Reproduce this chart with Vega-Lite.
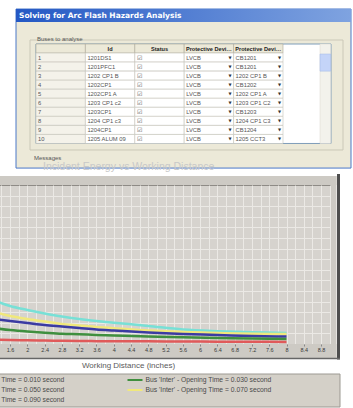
{
  "$schema": "https://vega.github.io/schema/vega-lite/v6.json",
  "padding": {"left": -78, "top": 8, "right": 0, "bottom": 0},
  "background": "white",
  "bounds": "flush",
  "spacing": 17,
  "config": {
    "view": {"stroke": null},
    "font": "Liberation Sans"
  },
  "datasets": {
    "columns": [
      {"col": "No", "label": ""},
      {"col": "Id", "label": "Id"},
      {"col": "Status", "label": "Status"},
      {"col": "Protective Device Type", "label": "Protective Device Type"},
      {"col": "Protective Device Id", "label": "Protective Device Id"}
    ],
    "buses": [
      {"No": "1", "Id": "1201DS1", "Status": "☑", "Protective Device Type": "LVCB", "Protective Device Id": "CB1201"},
      {"No": "2", "Id": "1201PFC1", "Status": "☑", "Protective Device Type": "LVCB", "Protective Device Id": "CB1201"},
      {"No": "3", "Id": "1202 CP1 B", "Status": "☑", "Protective Device Type": "LVCB", "Protective Device Id": "1202 CP1 B"},
      {"No": "4", "Id": "1202CP1", "Status": "☑", "Protective Device Type": "LVCB", "Protective Device Id": "CB1202"},
      {"No": "5", "Id": "1202CP1 A", "Status": "☑", "Protective Device Type": "LVCB", "Protective Device Id": "1202 CP1 A"},
      {"No": "6", "Id": "1203 CP1 c2", "Status": "☑", "Protective Device Type": "LVCB", "Protective Device Id": "1203 CP1 C2"},
      {"No": "7", "Id": "1203CP1", "Status": "☑", "Protective Device Type": "LVCB", "Protective Device Id": "CB1203"},
      {"No": "8", "Id": "1204 CP1 c3", "Status": "☑", "Protective Device Type": "LVCB", "Protective Device Id": "1204 CP1 C3"},
      {"No": "9", "Id": "1204CP1", "Status": "☑", "Protective Device Type": "LVCB", "Protective Device Id": "CB1204"},
      {"No": "10", "Id": "1205 ALUM 09", "Status": "☑", "Protective Device Type": "LVCB", "Protective Device Id": "1205 CCT3"}
    ],
    "curves": [
      {"series": "Bus 'Inter' - Opening Time = 0.090 second", "distance": 1.2, "energy": 4.15},
      {"series": "Bus 'Inter' - Opening Time = 0.090 second", "distance": 1.6, "energy": 3.58},
      {"series": "Bus 'Inter' - Opening Time = 0.090 second", "distance": 2.0, "energy": 3.21},
      {"series": "Bus 'Inter' - Opening Time = 0.090 second", "distance": 2.4, "energy": 2.88},
      {"series": "Bus 'Inter' - Opening Time = 0.090 second", "distance": 2.8, "energy": 2.59},
      {"series": "Bus 'Inter' - Opening Time = 0.090 second", "distance": 3.2, "energy": 2.36},
      {"series": "Bus 'Inter' - Opening Time = 0.090 second", "distance": 3.6, "energy": 2.17},
      {"series": "Bus 'Inter' - Opening Time = 0.090 second", "distance": 4.0, "energy": 2.01},
      {"series": "Bus 'Inter' - Opening Time = 0.090 second", "distance": 4.8, "energy": 1.70},
      {"series": "Bus 'Inter' - Opening Time = 0.090 second", "distance": 5.6, "energy": 1.37},
      {"series": "Bus 'Inter' - Opening Time = 0.090 second", "distance": 6.4, "energy": 1.21},
      {"series": "Bus 'Inter' - Opening Time = 0.090 second", "distance": 7.2, "energy": 1.11},
      {"series": "Bus 'Inter' - Opening Time = 0.090 second", "distance": 8.0, "energy": 1.04},
      {"series": "Bus 'Inter' - Opening Time = 0.070 second", "distance": 1.2, "energy": 3.07},
      {"series": "Bus 'Inter' - Opening Time = 0.070 second", "distance": 1.6, "energy": 2.64},
      {"series": "Bus 'Inter' - Opening Time = 0.070 second", "distance": 2.0, "energy": 2.36},
      {"series": "Bus 'Inter' - Opening Time = 0.070 second", "distance": 2.4, "energy": 2.12},
      {"series": "Bus 'Inter' - Opening Time = 0.070 second", "distance": 2.8, "energy": 1.89},
      {"series": "Bus 'Inter' - Opening Time = 0.070 second", "distance": 3.2, "energy": 1.75},
      {"series": "Bus 'Inter' - Opening Time = 0.070 second", "distance": 3.6, "energy": 1.60},
      {"series": "Bus 'Inter' - Opening Time = 0.070 second", "distance": 4.0, "energy": 1.49},
      {"series": "Bus 'Inter' - Opening Time = 0.070 second", "distance": 4.8, "energy": 1.27},
      {"series": "Bus 'Inter' - Opening Time = 0.070 second", "distance": 5.6, "energy": 1.13},
      {"series": "Bus 'Inter' - Opening Time = 0.070 second", "distance": 6.4, "energy": 1.04},
      {"series": "Bus 'Inter' - Opening Time = 0.070 second", "distance": 7.2, "energy": 0.97},
      {"series": "Bus 'Inter' - Opening Time = 0.070 second", "distance": 8.0, "energy": 0.94},
      {"series": "Bus 'Inter' - Opening Time = 0.050 second", "distance": 1.2, "energy": 2.36},
      {"series": "Bus 'Inter' - Opening Time = 0.050 second", "distance": 1.6, "energy": 2.17},
      {"series": "Bus 'Inter' - Opening Time = 0.050 second", "distance": 2.0, "energy": 1.98},
      {"series": "Bus 'Inter' - Opening Time = 0.050 second", "distance": 2.4, "energy": 1.79},
      {"series": "Bus 'Inter' - Opening Time = 0.050 second", "distance": 2.8, "energy": 1.65},
      {"series": "Bus 'Inter' - Opening Time = 0.050 second", "distance": 3.2, "energy": 1.51},
      {"series": "Bus 'Inter' - Opening Time = 0.050 second", "distance": 3.6, "energy": 1.37},
      {"series": "Bus 'Inter' - Opening Time = 0.050 second", "distance": 4.0, "energy": 1.27},
      {"series": "Bus 'Inter' - Opening Time = 0.050 second", "distance": 4.8, "energy": 1.08},
      {"series": "Bus 'Inter' - Opening Time = 0.050 second", "distance": 5.6, "energy": 0.94},
      {"series": "Bus 'Inter' - Opening Time = 0.050 second", "distance": 6.4, "energy": 0.85},
      {"series": "Bus 'Inter' - Opening Time = 0.050 second", "distance": 7.2, "energy": 0.75},
      {"series": "Bus 'Inter' - Opening Time = 0.050 second", "distance": 8.0, "energy": 0.71},
      {"series": "Bus 'Inter' - Opening Time = 0.030 second", "distance": 1.2, "energy": 1.51},
      {"series": "Bus 'Inter' - Opening Time = 0.030 second", "distance": 1.6, "energy": 1.32},
      {"series": "Bus 'Inter' - Opening Time = 0.030 second", "distance": 2.0, "energy": 1.18},
      {"series": "Bus 'Inter' - Opening Time = 0.030 second", "distance": 2.4, "energy": 1.07},
      {"series": "Bus 'Inter' - Opening Time = 0.030 second", "distance": 2.8, "energy": 0.97},
      {"series": "Bus 'Inter' - Opening Time = 0.030 second", "distance": 3.2, "energy": 0.92},
      {"series": "Bus 'Inter' - Opening Time = 0.030 second", "distance": 3.6, "energy": 0.85},
      {"series": "Bus 'Inter' - Opening Time = 0.030 second", "distance": 4.0, "energy": 0.80},
      {"series": "Bus 'Inter' - Opening Time = 0.030 second", "distance": 4.8, "energy": 0.71},
      {"series": "Bus 'Inter' - Opening Time = 0.030 second", "distance": 5.6, "energy": 0.63},
      {"series": "Bus 'Inter' - Opening Time = 0.030 second", "distance": 6.4, "energy": 0.57},
      {"series": "Bus 'Inter' - Opening Time = 0.030 second", "distance": 7.2, "energy": 0.52},
      {"series": "Bus 'Inter' - Opening Time = 0.030 second", "distance": 8.0, "energy": 0.47},
      {"series": "Bus 'Inter' - Opening Time = 0.010 second", "distance": 1.2, "energy": 0.42},
      {"series": "Bus 'Inter' - Opening Time = 0.010 second", "distance": 1.6, "energy": 0.38},
      {"series": "Bus 'Inter' - Opening Time = 0.010 second", "distance": 2.0, "energy": 0.35},
      {"series": "Bus 'Inter' - Opening Time = 0.010 second", "distance": 2.4, "energy": 0.32},
      {"series": "Bus 'Inter' - Opening Time = 0.010 second", "distance": 2.8, "energy": 0.30},
      {"series": "Bus 'Inter' - Opening Time = 0.010 second", "distance": 3.2, "energy": 0.28},
      {"series": "Bus 'Inter' - Opening Time = 0.010 second", "distance": 3.6, "energy": 0.27},
      {"series": "Bus 'Inter' - Opening Time = 0.010 second", "distance": 4.0, "energy": 0.26},
      {"series": "Bus 'Inter' - Opening Time = 0.010 second", "distance": 4.8, "energy": 0.25},
      {"series": "Bus 'Inter' - Opening Time = 0.010 second", "distance": 5.6, "energy": 0.23},
      {"series": "Bus 'Inter' - Opening Time = 0.010 second", "distance": 6.4, "energy": 0.22},
      {"series": "Bus 'Inter' - Opening Time = 0.010 second", "distance": 7.2, "energy": 0.21},
      {"series": "Bus 'Inter' - Opening Time = 0.010 second", "distance": 8.0, "energy": 0.20}
    ]
  },
  "vconcat": [
    {
      "width": 353,
      "height": 159,
      "layer": [
        {
          "data": {"values": [{}]},
          "mark": {"type": "rect", "fill": "#ece9d8", "stroke": "#4a78c8", "strokeWidth": 1, "xOffset": -20, "x2Offset": 92.7, "yOffset": -35, "y2Offset": 29.1},
          "encoding": {
            "x": {"datum": "No", "type": "nominal", "bandPosition": 0, "axis": null, "scale": {"domain": ["No", "Id", "Status", "Protective Device Type", "Protective Device Id"], "range": [38, 285], "paddingInner": 0, "paddingOuter": 0}},
            "x2": {"datum": "Protective Device Id"},
            "y": {"datum": "hdr", "type": "nominal", "bandPosition": 0, "axis": null, "scale": {"domain": ["hdr", "1", "2", "3", "4", "5", "6", "7", "8", "9", "10"], "range": [35, 134.5], "paddingInner": 0, "paddingOuter": 0}},
            "y2": {"datum": "10"}
          }
        },
        {
          "data": {"values": [{}]},
          "mark": {"type": "rect", "fill": {"x1": 0, "y1": 0, "x2": 1, "y2": 0, "gradient": "linear", "stops": [{"offset": 0, "color": "#2458c4"}, {"offset": 1, "color": "#7fa3e0"}]}, "xOffset": -20, "x2Offset": 92.7, "yOffset": -35, "y2Offset": -26.5},
          "encoding": {
            "x": {"datum": "No", "type": "nominal", "bandPosition": 0, "axis": null},
            "x2": {"datum": "Protective Device Id"},
            "y": {"datum": "hdr", "type": "nominal", "bandPosition": 0, "axis": null},
            "y2": {"datum": "hdr"}
          }
        },
        {
          "data": {"values": [{"t": "Solving for Arc Flash Hazards Analysis"}]},
          "mark": {"type": "text", "align": "left", "baseline": "middle", "color": "white", "fontWeight": "bold", "fontSize": 7.5, "font": "DejaVu Sans", "xOffset": -17, "yOffset": -28.5},
          "encoding": {
            "x": {"datum": "No", "type": "nominal", "bandPosition": 0, "axis": null},
            "y": {"datum": "hdr", "type": "nominal", "bandPosition": 0, "axis": null},
            "text": {"field": "t"}
          }
        },
        {
          "data": {"values": [{}]},
          "mark": {"type": "rect", "fill": null, "stroke": "#cbc8b8", "strokeWidth": 1, "xOffset": -6, "x2Offset": 84.7, "yOffset": -4, "y2Offset": 11},
          "encoding": {
            "x": {"datum": "No", "type": "nominal", "bandPosition": 0, "axis": null},
            "x2": {"datum": "Protective Device Id"},
            "y": {"datum": "hdr", "type": "nominal", "bandPosition": 0, "axis": null},
            "y2": {"datum": "10"}
          }
        },
        {
          "data": {"values": [{"t": "Buses to analyse"}]},
          "mark": {"type": "text", "align": "left", "baseline": "middle", "color": "#555555", "fontSize": 6, "xOffset": 1, "yOffset": -5},
          "encoding": {
            "x": {"datum": "No", "type": "nominal", "bandPosition": 0, "axis": null},
            "y": {"datum": "hdr", "type": "nominal", "bandPosition": 0, "axis": null},
            "text": {"field": "t"}
          }
        },
        {
          "data": {"values": [{}]},
          "mark": {"type": "rect", "fill": "white", "stroke": "#7f9db9", "strokeWidth": 1, "x2Offset": 72.7, "y2Offset": 4.5},
          "encoding": {
            "x": {"datum": "No", "type": "nominal", "bandPosition": 0, "axis": null},
            "x2": {"datum": "Protective Device Id"},
            "y": {"datum": "hdr", "type": "nominal", "bandPosition": 0, "axis": null},
            "y2": {"datum": "10"}
          }
        },
        {
          "data": {"values": [{}]},
          "mark": {"type": "rect", "fill": "#f3f2ec", "stroke": "#d8d6cc", "strokeWidth": 0.5, "xOffset": 86.4, "x2Offset": 72.3, "y2Offset": 4.5},
          "encoding": {
            "x": {"datum": "Protective Device Id", "type": "nominal", "bandPosition": 0, "axis": null},
            "x2": {"datum": "Protective Device Id"},
            "y": {"datum": "hdr", "type": "nominal", "bandPosition": 0, "axis": null},
            "y2": {"datum": "10"}
          }
        },
        {
          "data": {"values": [{}]},
          "mark": {"type": "rect", "fill": "#c4d4f8", "stroke": "#9fb6e6", "strokeWidth": 0.5, "xOffset": 86.4, "x2Offset": 72.3, "yOffset": 1, "y2Offset": -4.5},
          "encoding": {
            "x": {"datum": "Protective Device Id", "type": "nominal", "bandPosition": 0, "axis": null},
            "x2": {"datum": "Protective Device Id"},
            "y": {"datum": "1", "type": "nominal", "bandPosition": 0, "axis": null},
            "y2": {"datum": "3"}
          }
        },
        {
          "data": {"name": "columns"},
          "mark": {"type": "rect", "fill": "#ece9d8", "stroke": "#aca899", "strokeWidth": 0.6},
          "encoding": {
            "x": {"field": "col", "type": "nominal", "axis": null},
            "y": {"datum": "hdr", "type": "nominal", "axis": null}
          }
        },
        {
          "data": {"name": "columns"},
          "mark": {"type": "text", "align": "center", "baseline": "middle", "color": "#222222", "fontWeight": "bold", "fontSize": 5.6, "limit": 48, "ellipsis": ""},
          "encoding": {
            "x": {"field": "col", "type": "nominal", "axis": null},
            "y": {"datum": "hdr", "type": "nominal", "axis": null},
            "text": {"field": "label"}
          }
        },
        {
          "data": {"name": "buses"},
          "transform": [{"fold": ["No", "Id", "Status", "Protective Device Type", "Protective Device Id"], "as": ["col", "value"]}],
          "mark": {"type": "rect", "stroke": "#c4c2b8", "strokeWidth": 0.6},
          "encoding": {
            "x": {"field": "col", "type": "nominal", "axis": null},
            "y": {"field": "No", "type": "nominal", "axis": null},
            "fill": {"condition": {"test": "datum.col === 'No'", "value": "#f4f2ea"}, "value": "#ffffff"}
          }
        },
        {
          "data": {"name": "buses"},
          "transform": [{"fold": ["No", "Id", "Status", "Protective Device Type", "Protective Device Id"], "as": ["col", "value"]}],
          "mark": {"type": "text", "align": "left", "baseline": "middle", "color": "#555555", "fontSize": 5.8, "xOffset": 2, "limit": 44},
          "encoding": {
            "x": {"field": "col", "type": "nominal", "bandPosition": 0, "axis": null},
            "y": {"field": "No", "type": "nominal", "axis": null},
            "text": {"field": "value"}
          }
        },
        {
          "data": {"name": "buses"},
          "transform": [
            {"fold": ["Protective Device Type", "Protective Device Id"], "as": ["col", "value"]}
          ],
          "mark": {"type": "text", "align": "right", "baseline": "middle", "color": "#333333", "fontSize": 4, "xOffset": -2, "font": "DejaVu Sans"},
          "encoding": {
            "x": {"field": "col", "type": "nominal", "bandPosition": 1, "axis": null},
            "y": {"field": "No", "type": "nominal", "axis": null},
            "text": {"value": "▼"}
          }
        },
        {
          "data": {"values": [{"t": "Messages"}]},
          "mark": {"type": "text", "align": "left", "baseline": "middle", "color": "#555555", "fontSize": 6, "xOffset": -2, "yOffset": 23.5},
          "encoding": {
            "x": {"datum": "No", "type": "nominal", "bandPosition": 0, "axis": null},
            "y": {"datum": "10", "type": "nominal", "bandPosition": 0, "axis": null},
            "text": {"field": "t"}
          }
        }
      ]
    },
    {
      "width": 333,
      "height": 159,
      "title": {"text": "Incident Energy vs Working Distance", "anchor": "start", "frame": "group", "dx": 45, "offset": -10, "baseline": "bottom", "fontSize": 10.5, "fontWeight": "normal", "color": "#c8c8c8"},
      "view": {"fill": "#d6d3ce", "stroke": "#8e8b86", "strokeWidth": 1},
      "layer": [
        {
          "data": {"values": [{}]},
          "mark": {"type": "rect", "fill": "#cdcac4", "xOffset": -6, "x2Offset": 5.5, "yOffset": -9, "y2Offset": 0},
          "encoding": {
            "x": {"datum": 1.32, "type": "quantitative", "scale": {"domain": [1.32, 9.03], "nice": false, "zero": false},
                  "axis": {"orient": "top", "grid": true, "labels": false, "ticks": false, "domain": false, "title": null, "gridColor": "#ebe9e5", "gridWidth": 1,
                           "values": [1.4, 1.6, 1.8, 2.0, 2.2, 2.4, 2.6, 2.8, 3.0, 3.2, 3.4, 3.6, 3.8, 4.0, 4.2, 4.4, 4.6, 4.8, 5.0, 5.2, 5.4, 5.6, 5.8, 6.0, 6.2, 6.4, 6.6, 6.8, 7.0, 7.2, 7.4, 7.6, 7.8, 8.0, 8.2, 8.4, 8.6, 8.8, 9.0]}},
            "x2": {"datum": 9.03},
            "y": {"datum": 15, "type": "quantitative", "scale": {"domain": [0, 15], "nice": false, "zero": true},
                  "axis": {"orient": "left", "grid": true, "labels": false, "ticks": false, "domain": false, "title": null, "gridColor": "#ebe9e5", "gridWidth": 1,
                           "values": [1, 2, 3, 4, 5, 6, 7, 8, 9, 10, 11, 12, 13, 14]}},
            "y2": {"datum": 15}
          }
        },
        {
          "data": {"values": [{}]},
          "mark": {"type": "rect", "fill": "#cdcac4", "x2Offset": 5.5, "yOffset": -9, "y2Offset": 14},
          "encoding": {
            "x": {"datum": 9.03, "type": "quantitative", "scale": {"domain": [1.32, 9.03], "nice": false, "zero": false}, "axis": null},
            "x2": {"datum": 9.03},
            "y": {"datum": 15, "type": "quantitative", "scale": {"domain": [0, 15], "nice": false, "zero": true}, "axis": null},
            "y2": {"datum": 0}
          }
        },
        {
          "data": {"values": [{}]},
          "mark": {"type": "rect", "fill": "#cdcac4", "xOffset": -6, "x2Offset": 5.5, "y2Offset": 14},
          "encoding": {
            "x": {"datum": 1.32, "type": "quantitative", "scale": {"domain": [1.32, 9.03], "nice": false, "zero": false}, "axis": null},
            "x2": {"datum": 9.03},
            "y": {"datum": 0, "type": "quantitative", "scale": {"domain": [0, 15], "nice": false, "zero": true}, "axis": null},
            "y2": {"datum": 0}
          }
        },
        {
          "data": {"values": [{}]},
          "mark": {"type": "rule", "stroke": "#4e4e4e", "strokeWidth": 3, "xOffset": 7.5, "yOffset": -11, "y2Offset": 15.5},
          "encoding": {
            "x": {"datum": 9.03, "type": "quantitative", "scale": {"domain": [1.32, 9.03], "nice": false, "zero": false}, "axis": null},
            "y": {"datum": 15, "type": "quantitative", "scale": {"domain": [0, 15], "nice": false, "zero": true}, "axis": null},
            "y2": {"datum": 0}
          }
        },
        {
          "data": {"values": [{}]},
          "mark": {"type": "rule", "stroke": "#666666", "strokeWidth": 1.5, "xOffset": -6, "x2Offset": 9, "yOffset": 14.5},
          "encoding": {
            "x": {"datum": 1.32, "type": "quantitative", "scale": {"domain": [1.32, 9.03], "nice": false, "zero": false}, "axis": null},
            "x2": {"datum": 9.03},
            "y": {"datum": 0, "type": "quantitative", "scale": {"domain": [0, 15], "nice": false, "zero": true}, "axis": null}
          }
        },
        {
          "data": {"values": [{}]},
          "mark": {"type": "rect", "fill": "#d4d0c8", "stroke": "#9c9992", "strokeWidth": 1, "xOffset": -6, "x2Offset": 9, "yOffset": 30, "y2Offset": 63},
          "encoding": {
            "x": {"datum": 1.32, "type": "quantitative", "scale": {"domain": [1.32, 9.03], "nice": false, "zero": false}, "axis": null},
            "x2": {"datum": 9.03},
            "y": {"datum": 0, "type": "quantitative", "scale": {"domain": [0, 15], "nice": false, "zero": true}, "axis": null},
            "y2": {"datum": 0}
          }
        },
        {
          "data": {"name": "curves"},
          "mark": {"type": "line", "strokeWidth": 2.5, "interpolate": "monotone", "clip": true},
          "encoding": {
            "x": {"field": "distance", "type": "quantitative", "scale": {"domain": [1.32, 9.03], "nice": false, "zero": false},
                  "axis": {"orient": "bottom", "zindex": 1, "grid": false, "domain": false, "values": [1.6, 2.0, 2.4, 2.8, 3.2, 3.6, 4.0, 4.4, 4.8, 5.2, 5.6, 6.0, 6.4, 6.8, 7.2, 7.6, 8.0, 8.4, 8.8],
                           "format": "~g", "labelFontSize": 5.5, "labelColor": "#3a3a3a", "tickSize": 2, "tickColor": "#888888", "labelPadding": 1.5,
                           "title": "Working Distance (inches)", "titleFontSize": 8, "titleFontWeight": "normal", "titleColor": "#5a5a5a", "titleX": 130, "titlePadding": 8}},
            "y": {"field": "energy", "type": "quantitative", "scale": {"domain": [0, 15], "nice": false, "zero": true}, "axis": null},
            "color": {
              "field": "series", "type": "nominal",
              "scale": {
                "domain": ["Bus 'Inter' - Opening Time = 0.010 second", "Bus 'Inter' - Opening Time = 0.050 second", "Bus 'Inter' - Opening Time = 0.090 second", "Bus 'Inter' - Opening Time = 0.030 second", "Bus 'Inter' - Opening Time = 0.070 second"],
                "range": ["#e05a5a", "#3b3ba2", "#78e0d6", "#3f8f3f", "#f0e87c"]
              },
              "legend": {"orient": "none", "legendX": -76, "legendY": 365, "columns": 2, "columnPadding": 58, "rowPadding": 0, "symbolType": "M-1.5,0H1.5", "symbolSize": 100, "symbolStrokeWidth": 2, "labelOffset": 4.5, "labelFontSize": 6.75, "labelColor": "#4a4a4a", "labelLimit": 300, "title": null, "padding": 0, "gridAlign": "each", "zindex": 1}
            }
          }
        }
      ],
      "resolve": {"axis": {"x": "independent", "y": "independent"}}
    }
  ]
}
